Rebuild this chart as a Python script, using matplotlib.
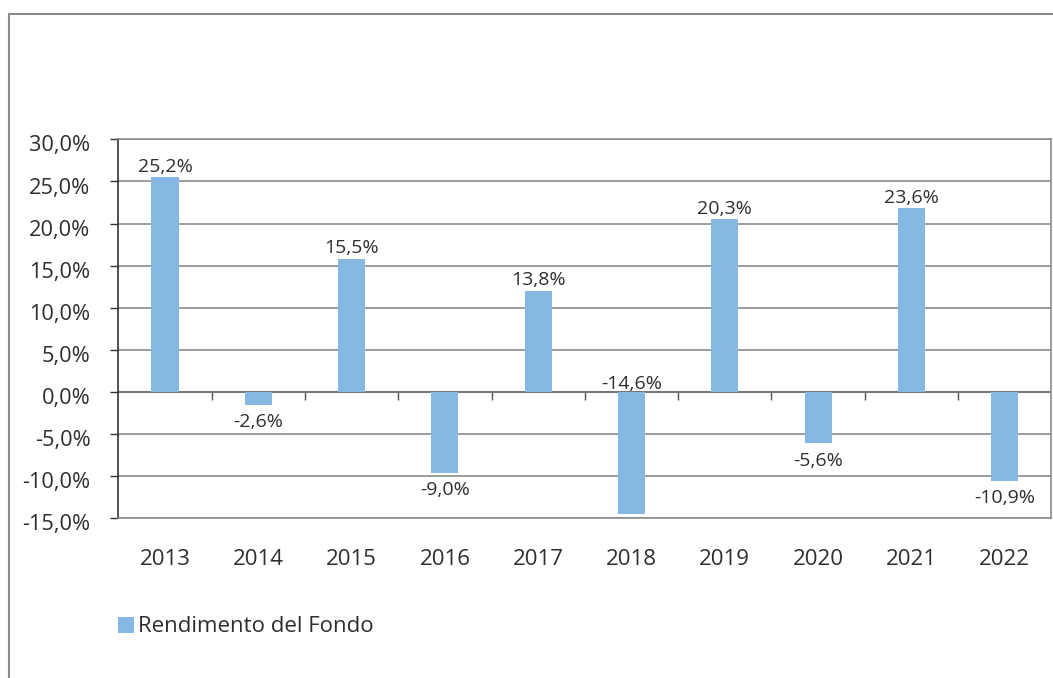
import matplotlib.pyplot as plt
from matplotlib.patches import Rectangle
from matplotlib.ticker import FuncFormatter, MultipleLocator
from matplotlib.transforms import ScaledTranslation
import numpy as np

plt.rcParams['font.family'] = ['Open Sans', 'DejaVu Sans']

years = ['2013', '2014', '2015', '2016', '2017', '2018', '2019', '2020', '2021', '2022']
# bar heights as drawn in the source chart (they do not always match the printed labels)
bar_values = [25.5, -1.5, 15.8, -9.6, 12.0, -14.5, 20.5, -6.1, 21.8, -10.6]
bar_labels = ['25,2%', '-2,6%', '15,5%', '-9,0%', '13,8%', '-14,6%', '20,3%', '-5,6%', '23,6%', '-10,9%']
series_name = 'Rendimento del Fondo'

bar_color = '#86B8E4'
text_color = '#2e2e2e'
grid_color = '#8c8c8c'

fig = plt.figure(figsize=(10.53, 6.78), dpi=100)
ax = fig.add_axes([0.1124, 0.2355, 0.8860, 0.5590])

x = np.arange(len(years))
bars = ax.bar(x, bar_values, width=0.29, color=bar_color, label=series_name, zorder=3)

ax.set_xlim(-0.5, len(years) - 0.5)
ax.set_ylim(-15, 30)
ax.yaxis.set_major_locator(MultipleLocator(5))
ax.yaxis.set_major_formatter(FuncFormatter(lambda v, p: f'{v:.1f}%'.replace('.', ',')))
ax.grid(axis='y', color=grid_color, lw=1.2, zorder=1)
ax.axhline(0, color='#6e6e6e', lw=1.2, zorder=2)

ax.tick_params(axis='y', length=6, width=1, color='#333333', pad=14,
               labelsize=15.7, labelcolor=text_color)
# the source draws the value labels a few pixels below their gridline
for lbl in ax.get_yticklabels():
    lbl.set_transform(lbl.get_transform() + ScaledTranslation(0, -3 / 72, fig.dpi_scale_trans))
ax.set_xticks(x)
ax.set_xticklabels(years)
ax.tick_params(axis='x', length=0, pad=22, labelsize=16, labelcolor=text_color)

for side in ['top', 'right', 'bottom']:
    ax.spines[side].set_color(grid_color)
    ax.spines[side].set_linewidth(1.2)
ax.spines['left'].set_color('#333333')
ax.spines['left'].set_linewidth(1.2)

# category separators on the zero line
sep = ax.secondary_xaxis(1 / 3)
sep.set_xticks(x[:-1] + 0.5)
sep.tick_params(axis='x', direction='out', length=6, width=1, color='#555555', labelbottom=False, labeltop=False)
sep.spines['bottom'].set_visible(False)
sep.spines['top'].set_visible(False)

# data labels
for xi, v, lab in zip(x, bar_values, bar_labels):
    if v >= 0:
        ax.annotate(lab, (xi, v), xytext=(0, 4), textcoords='offset points',
                    ha='center', va='baseline', fontsize=14, color=text_color)
    elif v < -13:
        ax.annotate(lab, (xi, 0), xytext=(0, 2.5), textcoords='offset points',
                    ha='center', va='baseline', fontsize=14, color=text_color)
    else:
        ax.annotate(lab, (xi, v), xytext=(0, -16), textcoords='offset points',
                    ha='center', va='baseline', fontsize=14, color=text_color)

leg = fig.legend(handles=[bars], labels=[series_name], loc='center left',
                 bbox_to_anchor=(118 / 1053, 1 - 627 / 678), frameon=False,
                 fontsize=16, handlelength=0.72, handleheight=0.72, handletextpad=0.2,
                 borderpad=0, borderaxespad=0)
for t in leg.get_texts():
    t.set_color(text_color)

# outer chart border
fig.add_artist(Rectangle((9 / 1053, -0.05), 1.2, 1.05 - 14 / 678, transform=fig.transFigure,
                         fill=False, edgecolor='#8a8a8a', lw=1.5, clip_on=False))

fig.savefig('out.png', dpi=100)
